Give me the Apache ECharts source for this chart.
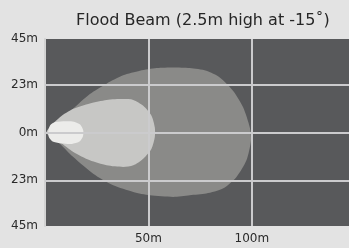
<!DOCTYPE html>
<html>
<head>
<meta charset="utf-8">
<script src="https://cdn.jsdelivr.net/npm/echarts@6/dist/echarts.min.js"></script>
<style>
    html, body { margin: 0; padding: 0; background: #e3e3e3; }
    #main { width: 349px; height: 248px; }
</style>
</head>
<body>
<div id="main"></div>
<script>
// beam contours, [distance m, lateral m]
var outerBeam = [
    [0.5, 0], [5.6, 4], [13.7, 11.5], [21.7, 18.5], [29.8, 23.5], [37.8, 27.5], [45.9, 29.7],
    [54, 31], [62, 31.3], [70, 31], [78, 29.7], [84.5, 26.5], [91, 20], [95.8, 12.1],
    [99, 2.5], [99.6, -3.8], [97.4, -13.4], [92.6, -21.4], [86, -27], [78, -29.4],
    [70, -30.2], [62, -31], [50.7, -30.2], [42.7, -28.6], [33, -25.4], [23.3, -19.8],
    [13.7, -11.8], [5.6, -3.8]
];
var midBeam = [
    [0.8, 0], [7.2, 7.3], [13.7, 11.4], [21.7, 14], [29.8, 15.7], [37.8, 16.1], [42.7, 15.7],
    [47.5, 12.9], [51.5, 8.1], [53.1, 2.5], [53.1, -2.2], [51.5, -7.8], [47.5, -12.6],
    [42.7, -15.8], [37.8, -16.6], [29.8, -15.8], [21.7, -13.4], [13.7, -9.4], [7.2, -4.6]
];
var innerBeam = [
    [1.5, 0], [2.5, 3.5], [5, 5], [10, 5.4], [14, 5.2], [17, 3.8], [18.5, 1],
    [18.3, -2], [16.5, -4.5], [13, -5.5], [8, -5.3], [4, -4.5], [2, -2.5]
];
var yTicks = [-45, -23, 0, 23, 45];
var xTicks = [50, 100];
var gridY = [23, 0, -23];
var gridX = [50, 100];

function beamSeries(points, color) {
    return {
        type: 'custom',
        silent: true,
        data: points,
        renderItem: function (params, api) {
            if (params.dataIndex !== 0) {
                return;
            }
            var pts = [];
            for (var i = 0; i < points.length; i++) {
                pts.push(api.coord(points[i]));
            }
            return {
                type: 'polygon',
                shape: { points: pts, smooth: 0.25 },
                style: { fill: color }
            };
        }
    };
}

var lines = [];
for (var i = 0; i < gridY.length; i++) {
    lines.push({ yAxis: gridY[i] });
}
for (var j = 0; j < gridX.length; j++) {
    lines.push({ xAxis: gridX[j] });
}

var option = {
    backgroundColor: '#e3e3e3',
    animation: false,
    title: {
        text: 'Flood Beam (2.5m high at -15˚)',
        left: 71,
        top: 8,
        textStyle: { fontFamily: 'DejaVu Sans', fontSize: 16, fontWeight: 'normal', color: '#262626' }
    },
    grid: {
        left: 45, right: 0, top: 39, bottom: 22,
        show: true, backgroundColor: '#58595b', borderWidth: 0
    },
    xAxis: {
        type: 'value',
        min: 0,
        max: 147,
        axisLine: { show: false },
        axisTick: { show: false },
        splitLine: { show: false },
        axisLabel: {
            customValues: xTicks,
            margin: 7,
            fontFamily: 'DejaVu Sans',
            fontSize: 12,
            color: '#2a2a2a',
            formatter: function (v) { return v + 'm'; }
        }
    },
    yAxis: {
        type: 'value',
        min: -45,
        max: 45,
        axisLine: { show: true, lineStyle: { color: '#d2d2d2', width: 2 } },
        axisTick: { show: false },
        splitLine: { show: false },
        axisLabel: {
            customValues: yTicks,
            margin: 7,
            fontFamily: 'DejaVu Sans',
            fontSize: 12,
            color: '#2a2a2a',
            formatter: function (v) { return Math.abs(v) + 'm'; }
        }
    },
    series: [
        beamSeries(outerBeam, '#8a8a88'),
        beamSeries(midBeam, '#c7c7c5'),
        beamSeries(innerBeam, '#ececea'),
        {
            type: 'line',
            data: [],
            z: 10,
            markLine: {
                silent: true,
                symbol: 'none',
                label: { show: false },
                lineStyle: { color: '#cbcbcd', width: 2, type: 'solid' },
                data: lines
            }
        }
    ]
};

var myChart = echarts.init(document.getElementById('main'));
myChart.setOption(option);
</script>
</body>
</html>
